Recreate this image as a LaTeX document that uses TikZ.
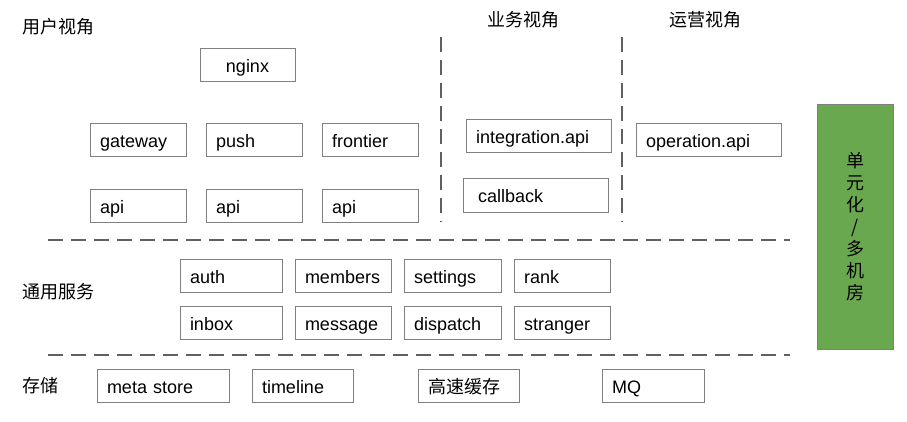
\documentclass[tikz,border=0pt]{standalone}
\usepackage{fontspec}
\setmainfont{Liberation Sans}
\newfontfamily\cjk{Noto Sans CJK SC}
\definecolor{boxgray}{RGB}{128,128,128}
\definecolor{lingray}{RGB}{96,96,96}
\definecolor{unitgreen}{RGB}{106,168,79}
\begin{document}
\begin{tikzpicture}[x=1pt,y=-1pt,font=\fontsize{18}{22}\selectfont,
    box/.style={draw=boxgray,line width=1pt,minimum height=33pt,inner xsep=10pt,inner ysep=0pt,
        text height=16pt,text depth=1pt,text width=#1,align=left},
    sep/.style={draw=lingray,line width=1.6pt,dash pattern=on 15pt off 8pt}]
    \useasboundingbox (0,0) rectangle (907,422);

    % titles
    \node[anchor=west] (user) at (19,27) {\cjk 用户视角};
    \node (biz) at (523,20) {\cjk 业务视角};
    \node (ops) at (705,20) {\cjk 运营视角};
    \node[anchor=west] (common) at (19,292) {\cjk 通用服务};
    \node[anchor=west] (storage) at (19,386) {\cjk 存储};

    % separators
    \coordinate (v1a) at (441,37);
    \coordinate (v1b) at (441,222);
    \coordinate (v2a) at (622,37);
    \coordinate (v2b) at (622,222);
    \coordinate (h1a) at (48,240);
    \coordinate (h1b) at (790,240);
    \coordinate (h2a) at (48,355);
    \coordinate (h2b) at (790,355);
    \draw[sep] (v1a) -- (v1b);
    \draw[sep] (v2a) -- (v2b);
    \draw[sep] (h1a) -- (h1b);
    \draw[sep] (h2a) -- (h2b);

    % user view
    \node[box=75pt,align=center] (nginx) at (247.5,65.5) {nginx};
    \node[box=76pt] (gateway) at (138,140.5) {gateway};
    \node[box=76pt] (push) at (254,140.5) {push};
    \node[box=76pt] (frontier) at (370,140.5) {frontier};
    \node[box=76pt] (api1) at (138,206) {api};
    \node[box=76pt] (api2) at (254,206) {api};
    \node[box=76pt] (api3) at (370,206) {api};

    % business / operation view
    \node[box=125pt] (intapi) at (538.5,136) {integration.api};
    \node[box=115pt,inner xsep=15pt] (callback) at (535.5,195.5) {callback};
    \node[box=125pt] (opapi) at (708.5,140.5) {operation.api};

    % common services
    \node[box=82pt] (auth) at (231,276) {auth};
    \node[box=76pt] (members) at (343,276) {members};
    \node[box=77pt] (settings) at (452.5,276) {settings};
    \node[box=76pt] (rank) at (562,276) {rank};
    \node[box=82pt] (inbox) at (231,322.5) {inbox};
    \node[box=76pt] (message) at (343,322.5) {message};
    \node[box=77pt] (dispatch) at (452.5,322.5) {dispatch};
    \node[box=76pt] (stranger) at (562,322.5) {stranger};

    % storage
    \node[box=112pt] (meta) at (163,386) {meta store};
    \node[box=81pt] (timeline) at (302.5,386) {timeline};
    \node[box=81pt] (cache) at (468.5,386) {\cjk 高速缓存};
    \node[box=82pt] (mq) at (653,386) {MQ};

    % unit
    \node[draw=boxgray,line width=1pt,fill=unitgreen,minimum width=76pt,minimum height=244pt,
        align=center,font=\cjk\fontsize{18}{22}\selectfont] (unit) at (855,227)
        {单\\元\\化\\/\\多\\机\\房};
\end{tikzpicture}
\end{document}
